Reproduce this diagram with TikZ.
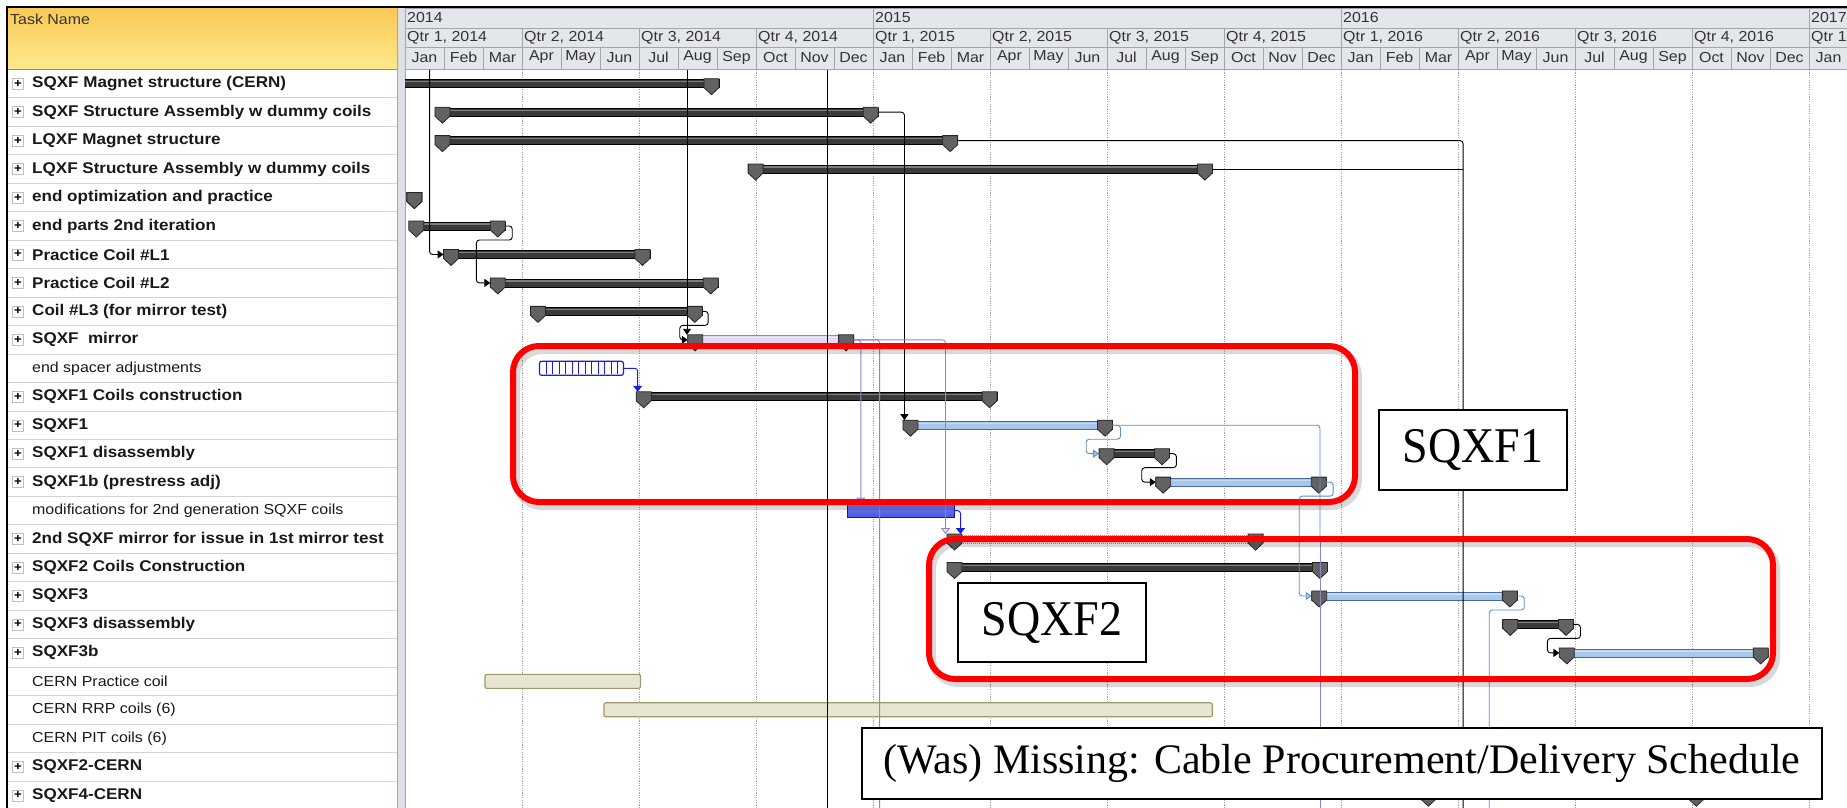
\documentclass[tikz,border=0pt]{standalone}
\usepackage{fontspec}
\usepackage{tikz}
\usetikzlibrary{arrows.meta,calc}
\setmainfont{Liberation Sans}
\newfontfamily\ganttfont[FakeStretch=1.1]{Liberation Sans}
\newfontfamily\notefont[FakeStretch=0.92]{Liberation Serif}
\newfontfamily\cablefont{Liberation Serif}
\definecolor{hdrgray}{HTML}{E3E6EB}
\definecolor{hdrline}{HTML}{A2A6AC}
\definecolor{sepgray}{HTML}{DDE0E5}
\definecolor{taskgold}{HTML}{F9C955}
\definecolor{taskyellow}{HTML}{FFE98C}
\definecolor{rowline}{HTML}{D4D4D4}
\definecolor{gridgray}{HTML}{A6A6A6}
\definecolor{barblack}{HTML}{3A3A3A}
\definecolor{markgray}{HTML}{626262}
\definecolor{linkblue}{HTML}{5A8ED8}
\definecolor{barblue}{HTML}{A9C7EB}
\definecolor{deepblue}{HTML}{1C1CE0}
\definecolor{modblue}{HTML}{4A55E2}
\definecolor{linkpurple}{HTML}{9483C4}
\definecolor{barlav}{HTML}{E3DCF0}
\definecolor{cernfill}{HTML}{E8E5D2}
\definecolor{cernline}{HTML}{A1996A}
\definecolor{alertred}{HTML}{FF0000}
\tikzset{
  hdrcell/.style={draw=hdrline,fill=hdrgray,line width=0.8pt},
  hdrtext/.style={inner sep=0pt,text=black!80,font=\ganttfont\fontsize{14.5}{16}\selectfont},
  task/.style={anchor=west,inner sep=0pt,text=black!90,font=\ganttfont\bfseries\fontsize{15.5}{17}\selectfont},
  subtask/.style={task,font=\ganttfont\fontsize{14.5}{16}\selectfont},
  plusbox/.style={draw=black!25,fill=white,minimum size=11pt,inner sep=0pt,
    font=\ganttfont\bfseries\fontsize{12}{12}\selectfont},
  gridline/.style={draw=gridgray,line width=0.7pt,dash pattern=on 1.2pt off 1.2pt},
  marker/.style={fill=markgray,draw=black!85,line width=0.8pt},
  darkbar/.style={fill=barblack,draw=black},
  bluebar/.style={fill=barblue,draw=linkblue!75!black},
  lavbar/.style={fill=barlav,draw=linkpurple},
  dotbar/.style={fill=gray!20,draw=gray!80,dash pattern=on 1pt off 1pt},
  spacerbar/.style={draw=deepblue,fill=white,line width=1.2pt,rounded corners=2pt},
  modbar/.style={draw=deepblue!80!black,top color=modblue!75,bottom color=modblue,line width=1pt},
  cernbar/.style={draw=cernline,fill=cernfill,line width=1.2pt,rounded corners=2pt},
  blacklink/.style={draw=black,line width=0.9pt,rounded corners=3pt},
  bluelink/.style={draw=linkblue,line width=0.9pt,rounded corners=3pt},
  purplelink/.style={draw=linkpurple,line width=0.9pt,rounded corners=3pt},
  deeplink/.style={draw=deepblue,line width=1pt,rounded corners=3pt},
  tip/.style={-{Triangle[length=6pt,width=8pt]}},
  btip/.style={-{Triangle[length=6pt,width=8pt,fill=barblue,color=linkblue]}},
  ptip/.style={-{Triangle[length=6pt,width=9pt,fill=barlav,color=linkpurple]}},
  dtip/.style={-{Triangle[length=6pt,width=9pt,color=deepblue]}},
  statusline/.style={draw=black,line width=1.3pt},
  frameshadow/.style={draw=black,opacity=0.15,line width=8pt,rounded corners=26pt},
  alertframe/.style={draw=alertred,line width=6pt,rounded corners=26pt},
  notebox/.style={draw=black,fill=white,line width=1.6pt,inner sep=0pt,
    font=\notefont\fontsize{50}{50}\selectfont},
  cablebox/.style={notebox,font=\cablefont\fontsize{42}{42}\selectfont}
}
% milestone shield under a summary bar end
\newcommand{\mstone}[2]{%
  \draw[marker] ({#1-7.5},{#2-5}) -- ++(15,0) -- ++(0,9) -- ++(-7.5,7) -- ++(-7.5,-7) -- cycle;}
% summary bar: row, first month, last month, style, name
\newcommand{\sumbar}[5]{%
  \draw[#4,line width=0.8pt] ({mx(#2)},{ry(#1)-4}) rectangle ({mx(#3)},{ry(#1)+4});
  \draw[white,opacity=0.35,line width=1.2pt] ({mx(#2)+2},{ry(#1)-2}) -- ({mx(#3)-2},{ry(#1)-2});
  \mstone{mx(#2+0.19)}{ry(#1)}
  \mstone{mx(#3-0.19)}{ry(#1)}
  \coordinate (#5-s) at ({mx(#2)},{ry(#1)});
  \coordinate (#5-e) at ({mx(#3)},{ry(#1)});
  \coordinate (#5-n) at ({mx(#2+0.19)},{ry(#1)-5});}
% plain task bar: row, first month, last month, style, name
\newcommand{\taskbar}[5]{%
  \draw[#4] ({mx(#2)},{ry(#1)-7}) rectangle ({mx(#3)},{ry(#1)+7});
  \coordinate (#5-s) at ({mx(#2)},{ry(#1)});
  \coordinate (#5-e) at ({mx(#3)},{ry(#1)});
  \coordinate (#5-n) at ({mx(#2)},{ry(#1)-7});}
\newcommand{\monthname}[1]{\ifcase#1 Jan\or Feb\or Mar\or Apr\or May\or Jun\or Jul\or Aug\or Sep\or Oct\or Nov\or Dec\fi}

\begin{document}
\begin{tikzpicture}[x=1pt,y=-1pt,
  declare function={mx(\m)=405+39*\m; ry(\r)=83.7+28.46*\r;}]
\useasboundingbox (0,0) rectangle (1847,808);
\clip (0,0) rectangle (1847,808);
\fill[white] (0,0) rectangle (1847,808);

% task column
\shade[top color=taskgold,bottom color=taskyellow] (7,8) rectangle (397,69.5);
\draw[taskgold!70!black,line width=1pt] (7,69.5) -- (397,69.5);
\node[hdrtext,anchor=west] (taskhead) at (10,19) {Task Name};
\foreach \r in {1,...,26}
  \draw[rowline,line width=1pt] (7,{69.5+28.46*\r}) -- (397,{69.5+28.46*\r});
\foreach \r in {0,1,2,3,4,5,6,7,8,9,11,12,13,14,16,17,18,19,20,24,25}
  \node[plusbox] at (18,{ry(\r)}) {+};

\node[task] (magcern)   at (32,{ry(0)})  {SQXF Magnet structure (CERN)};
\node[task] (sqassy)    at (32,{ry(1)})  {SQXF Structure Assembly w dummy coils};
\node[task] (lqmag)     at (32,{ry(2)})  {LQXF Magnet structure};
\node[task] (lqassy)    at (32,{ry(3)})  {LQXF Structure Assembly w dummy coils};
\node[task] (endopt)    at (32,{ry(4)})  {end optimization and practice};
\node[task] (endparts)  at (32,{ry(5)})  {end parts 2nd iteration};
\node[task] (pcoila)    at (32,{ry(6)})  {Practice Coil \#L1};
\node[task] (pcoilb)    at (32,{ry(7)})  {Practice Coil \#L2};
\node[task] (coilthree) at (32,{ry(8)})  {Coil \#L3 (for mirror test)};
\node[task] (mirror)    at (32,{ry(9)})  {SQXF\ \ mirror};
\node[subtask] (spacer) at (32,{ry(10)}) {end spacer adjustments};
\node[task] (sqonecoil) at (32,{ry(11)}) {SQXF1 Coils construction};
\node[task] (sqone)     at (32,{ry(12)}) {SQXF1};
\node[task] (sqonedis)  at (32,{ry(13)}) {SQXF1 disassembly};
\node[task] (sqoneb)    at (32,{ry(14)}) {SQXF1b (prestress adj)};
\node[subtask] (mods)   at (32,{ry(15)}) {modifications for 2nd generation SQXF coils};
\node[task] (mirrortwo) at (32,{ry(16)}) {2nd SQXF mirror for issue in 1st mirror test};
\node[task] (sqtwocoil) at (32,{ry(17)}) {SQXF2 Coils Construction};
\node[task] (sqthree)   at (32,{ry(18)}) {SQXF3};
\node[task] (sqthrdis)  at (32,{ry(19)}) {SQXF3 disassembly};
\node[task] (sqthreeb)  at (32,{ry(20)}) {SQXF3b};
\node[subtask] (cernpc) at (32,{ry(21)}) {CERN Practice coil};
\node[subtask] (cernrrp) at (32,{ry(22)}) {CERN RRP coils (6)};
\node[subtask] (cernpit) at (32,{ry(23)}) {CERN PIT coils (6)};
\node[task] (sqtwocern) at (32,{ry(24)}) {SQXF2-CERN};
\node[task] (sqfourcern) at (32,{ry(25)}) {SQXF4-CERN};

% splitter between the table and the chart
\fill[sepgray] (397,8) rectangle (405,808);
\draw[hdrline] (397,8) -- (397,808) (405,8) -- (405,808);

% timescale: years, quarters, months
\foreach \yr [count=\k from 0] in {2014,2015,2016,2017}{
  \draw[hdrcell] ({mx(12*\k)},8) rectangle ({mx(12*\k+12)},28);
  \node[hdrtext,anchor=west] at ({mx(12*\k)+2},18) {\yr};
}
\foreach \q in {0,...,12}{
  \pgfmathtruncatemacro\qyr{2014+floor(\q/4)}
  \pgfmathtruncatemacro\qnum{mod(\q,4)+1}
  \draw[hdrcell] ({mx(3*\q)},28) rectangle ({mx(3*\q+3)},47);
  \node[hdrtext,anchor=west] at ({mx(3*\q)+2},37.5) {Qtr \qnum, \qyr};
}
\foreach \k in {0,...,36}{
  \pgfmathtruncatemacro\mi{mod(\k,12)}
  \draw[hdrcell] ({mx(\k)},47) rectangle ({mx(\k+1)},69.5);
  \node[hdrtext] at ({mx(\k+0.5)},57.5) {\monthname{\mi}};
}
\draw[hdrline,line width=1.2pt] (405,69.5) -- (1847,69.5);
\draw[black,line width=2.5pt] (6,7) -- (1847,7);
\draw[black,line width=2pt] (6.5,7) -- (6.5,808);

\begin{scope}
\clip (405,70) rectangle (1847,808);
\foreach \q in {1,...,12}
  \draw[gridline] ({mx(3*\q)},70) -- ({mx(3*\q)},808);

% bars
\sumbar{0}{-1}{8.05}{darkbar}{cern}
\sumbar{1}{0.77}{12.13}{darkbar}{assy}
\sumbar{2}{0.77}{14.17}{darkbar}{lqm}
\sumbar{3}{8.8}{20.7}{darkbar}{lqs}
\sumbar{4}{0.05}{0.43}{darkbar}{opt}
\sumbar{5}{0.1}{2.57}{darkbar}{parts}
\sumbar{6}{0.99}{6.28}{darkbar}{pca}
\sumbar{7}{2.19}{8.03}{darkbar}{pcb}
\sumbar{8}{3.22}{7.62}{darkbar}{lthree}
\sumbar{9}{7.25}{11.5}{lavbar}{mir}
\taskbar{10}{3.45}{5.6}{spacerbar}{spc}
\foreach \s in {1,...,12}
  \draw[deepblue,line width=0.9pt] ({mx(3.45)+6.5*\s},{ry(10)-6}) -- ++(0,12);
\sumbar{11}{5.93}{15.18}{darkbar}{sqc}
\sumbar{12}{12.77}{18.14}{bluebar}{sqa}
\sumbar{13}{17.8}{19.6}{darkbar}{sqd}
\sumbar{14}{19.25}{23.62}{bluebar}{sqb}
\taskbar{15}{11.34}{14.09}{modbar}{mod}
\sumbar{16}{13.9}{22.0}{dotbar}{mirb}
\sumbar{17}{13.9}{23.65}{darkbar}{stc}
\sumbar{18}{23.25}{28.52}{bluebar}{sth}
\sumbar{19}{28.15}{29.96}{darkbar}{std}
\sumbar{20}{29.6}{34.95}{bluebar}{stb}
\taskbar{21}{2.05}{6.04}{cernbar}{cpc}
\taskbar{22}{5.1}{20.7}{cernbar}{crrp}
\sumbar{25}{26.05}{33.3}{darkbar}{sfc}

% links
\coordinate (feedpca) at ({mx(0.63)},70);
\coordinate (feedmir) at ({mx(7.23)},70);
\coordinate (status) at ({mx(10.83)},70);
\coordinate (lqdrop) at ({mx(27.13)},808);
\coordinate (pdrop) at ({mx(12.17)},808);
\coordinate (bluedrop) at ({mx(23.46)},{ry(16)});
\draw[blacklink,tip] (feedpca) |- (pca-s);
\draw[blacklink,tip] (parts-e) -- ++(7,0) -- ++(0,14) -| ([xshift=-14pt]pcb-s) -- (pcb-s);
\draw[blacklink,tip] (feedmir) -- (feedmir |- mir-n);
\draw[blacklink,tip] (lthree-e) -- ++(6,0) -- ++(0,14) -| ([xshift=-8pt]mir-s) -- (mir-s);
\draw[blacklink,tip] (assy-e) -| ([xshift=-6pt]sqa-n);
\draw[blacklink] (lqm-e) -| (lqdrop);
\draw[blacklink] (lqs-e) -- (lqs-e -| lqdrop);
\draw[deeplink,dtip] (spc-e) -| ([xshift=-6pt]sqc-n);
\draw[purplelink] (mir-e) -| (pdrop);
\draw[purplelink,ptip] (mir-e) -| ([xshift=13.6pt]mod-n);
\draw[purplelink,ptip] (mir-e) -| ([xshift=-9pt]mirb-n);
\draw[deeplink,dtip] (mod-e) -| ([xshift=6pt]mirb-n);
\draw[bluelink,btip] (sqa-e) -- ++(8,0) -- ++(0,14) -| ([xshift=-13pt]sqd-s) -- (sqd-s);
\draw[bluelink] (sqa-e) -| (bluedrop);
\draw[purplelink] (bluedrop) -- ++(0,300);
\draw[blacklink,tip] (sqd-e) -- ++(7,0) -- ++(0,14) -| ([xshift=-14pt]sqb-s) -- (sqb-s);
\draw[bluelink,btip] (sqb-e) -- ++(7,0) -- ++(0,14) -| ([xshift=-12.5pt]sth-s) -- (sth-s);
\draw[bluelink] (sth-e) -- ++(7,0) -- ++(0,14) -- ++(-35,0) -- ++(0,250);
\draw[blacklink,tip] (std-e) -- ++(7,0) -- ++(0,14) -| ([xshift=-12pt]stb-s) -- (stb-s);
\draw[statusline] (status) -- ++(0,740);
\end{scope}

% highlighted groups and notes
\draw[frameshadow] (516,350) rectangle (1358,506);
\draw[alertframe] (513,346) rectangle (1355,502);
\draw[frameshadow] (932,543) rectangle (1776,683);
\draw[alertframe] (929,539) rectangle (1773,679);
\node[notebox,minimum width=188pt,minimum height=80pt] (sqxfonelbl) at (1473,450) {SQXF1};
\node[notebox,minimum width=188pt,minimum height=79pt] (sqxftwolbl) at (1052,622.5) {SQXF2};
\node[cablebox,minimum width=960pt,minimum height=71pt] (cablelbl) at (1342,763.5)
  {(Was) Missing: Cable Procurement/Delivery Schedule};
\end{tikzpicture}
\end{document}
